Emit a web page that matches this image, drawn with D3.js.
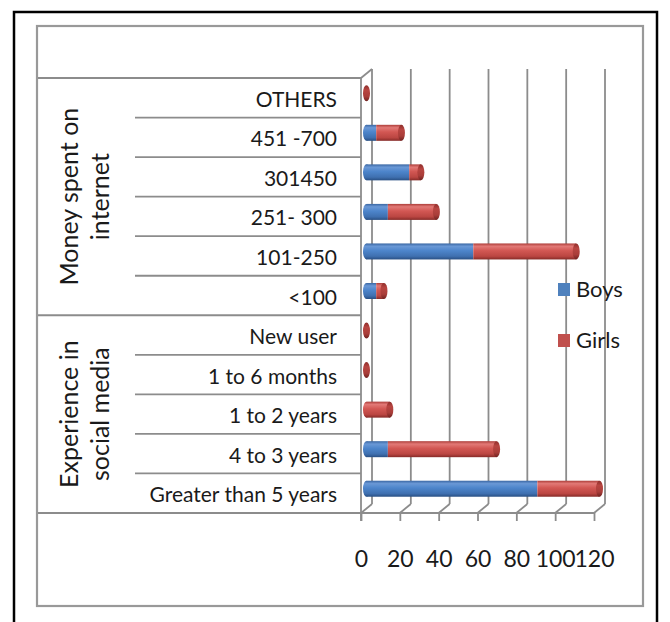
<!DOCTYPE html>
<html>
<head>
<meta charset="utf-8">
<script src="https://cdn.jsdelivr.net/npm/d3@7"></script>
<style>
  html, body { margin: 0; padding: 0; background: #fff; }
  svg { display: block; }
  text { font-family: Lato, "Open Sans", sans-serif; fill: #1a1a1a; }
</style>
</head>
<body>
<svg id="chart" width="670" height="622"></svg>
<script>
// Category rows, top to bottom
const categories = ["OTHERS", "451 -700", "301450", "251- 300", "101-250", "<100",
  "New user", "1 to 6 months", "1 to 2 years", "4 to 3 years", "Greater than 5 years"];
const boys  = [0, 5, 22, 11, 55, 5, 0, 0, 0, 11, 88];
const girls = [0, 13, 6, 25, 53, 4, 0, 0, 12, 56, 32];

// Grouping of the rows
const groupLabels = [["Money spent on", "internet"], ["Experience in", "social media"]];
const groupSizes = [6, 5];

const tickValues = [0, 20, 40, 60, 80, 100, 120];
const seriesNames = ["Boys", "Girls"];
const seriesColors = ["#4f81bd", "#c0504d"];

const svg = d3.select("#chart");

// Frames
svg.append("rect").attr("x", 14).attr("y", 12).attr("width", 643).attr("height", 614)
  .attr("fill", "none").attr("stroke", "#000").attr("stroke-width", 2.5);
svg.append("rect").attr("x", 37).attr("y", 26).attr("width", 606).attr("height", 580)
  .attr("fill", "none").attr("stroke", "#999").attr("stroke-width", 2.2);

// Scales: front edge of the floor, plus a depth offset for the back wall
const depthX = 11, depthY = -9;
const xFront = d3.scaleLinear().domain([0, 120]).range([361, 594]);
const xBack = v => xFront(v) + depthX;
const xMid = v => xFront(v) + depthX / 2;
const y = d3.scaleBand().domain(categories).range([78, 513]).padding(0);
const floorY = 513;
const topY = 78;

const grid = "#8c8c8c";
const g = svg.append("g");

// Back wall gridlines
g.selectAll("line.grid").data(tickValues.slice(1)).join("line")
  .attr("x1", d => xBack(d)).attr("x2", d => xBack(d))
  .attr("y1", topY + depthY).attr("y2", floorY + depthY)
  .attr("stroke", grid).attr("stroke-width", 1.8);

// Floor diagonals
g.selectAll("line.floor").data(tickValues).join("line")
  .attr("x1", d => xBack(d)).attr("x2", d => xFront(d))
  .attr("y1", floorY + depthY).attr("y2", floorY)
  .attr("stroke", grid).attr("stroke-width", 1.8);

// Left wall
const wall = [
  [xFront(0), topY, xFront(0), floorY + 8],
  [xBack(0), topY + depthY, xBack(0), floorY + depthY],
  [xFront(0), topY, xBack(0), topY + depthY]
];
g.selectAll("line.wall").data(wall).join("line")
  .attr("x1", d => d[0]).attr("y1", d => d[1]).attr("x2", d => d[2]).attr("y2", d => d[3])
  .attr("stroke", grid).attr("stroke-width", 1.8);

// Value axis along the front of the floor
const xAxis = d3.axisBottom(xFront).tickValues(tickValues).tickSize(8).tickPadding(30);
const ax = svg.append("g").attr("transform", `translate(0,${floorY})`).call(xAxis);
ax.select(".domain").remove();
ax.selectAll(".tick line").attr("stroke", grid).attr("stroke-width", 1.8);
ax.selectAll(".tick text").attr("font-size", 23).attr("font-family", "Lato, sans-serif").attr("fill", "#1a1a1a");
svg.append("line").attr("x1", 38).attr("x2", xFront(120)).attr("y1", floorY).attr("y2", floorY)
  .attr("stroke", grid).attr("stroke-width", 1.8);

// Category table lines
const boundaries = d3.range(categories.length + 1);
const groupEdges = [0];
groupSizes.forEach(s => groupEdges.push(groupEdges[groupEdges.length - 1] + s));
const rowY = i => i < categories.length ? y(categories[i]) : y.range()[1];
g.selectAll("line.row").data(boundaries.filter(i => i < categories.length)).join("line")
  .attr("x1", i => groupEdges.includes(i) ? 38 : 135).attr("x2", xFront(0))
  .attr("y1", i => rowY(i)).attr("y2", i => rowY(i))
  .attr("stroke", grid).attr("stroke-width", 1.8);

// Category labels
svg.selectAll("text.cat").data(categories).join("text")
  .attr("x", 337).attr("y", d => y(d) + y.bandwidth() / 2 + 9)
  .attr("text-anchor", "end").attr("font-size", 21).text(d => d);

// Group labels, rotated
groupLabels.forEach((lines, gi) => {
  const y0 = rowY(groupEdges[gi]), y1 = rowY(groupEdges[gi + 1]);
  const cy = (y0 + y1) / 2;
  lines.forEach((t, li) => {
    svg.append("text")
      .attr("transform", `translate(${78 + li * 31},${cy}) rotate(-90)`)
      .attr("text-anchor", "middle").attr("font-size", 25).text(t);
  });
});

// Cylinder shading
const defs = svg.append("defs");
function cylGrad(id, stops) {
  const lg = defs.append("linearGradient").attr("id", id)
    .attr("x1", 0).attr("y1", 0).attr("x2", 0).attr("y2", 1);
  stops.forEach(s => lg.append("stop").attr("offset", s[0]).attr("stop-color", s[1]));
}
cylGrad("cyl0", [[0, "#3a67a3"], [0.18, "#6a98d6"], [0.45, "#4d85cb"], [0.8, "#3f70b0"], [1, "#294f83"]]);
cylGrad("cyl1", [[0, "#ad3e3a"], [0.18, "#e27976"], [0.45, "#d25753"], [0.8, "#bb4642"], [1, "#862b28"]]);
cylGrad("cap1", [[0, "#8e2e2b"], [0.3, "#b84541"], [0.7, "#a93d39"], [1, "#6f2220"]]);
cylGrad("cap0", [[0, "#2f5a92"], [0.3, "#5b8bc8"], [0.7, "#4b7dbd"], [1, "#22426e"]]);

const barH = 16;
const rows = categories.map((c, i) => ({ cat: c, vals: [boys[i], girls[i]] }));
const bars = svg.append("g");
rows.forEach(r => {
  const cy = y(r.cat) + y.bandwidth() / 2 + depthY / 2;
  let acc = 0;
  const segs = r.vals.map((v, si) => { const s = { si, from: acc, to: acc + v }; acc += v; return s; });
  const first = segs.find(s => s.to > s.from);
  // rounded start of the cylinder
  if (first) {
    bars.append("ellipse").attr("cx", xMid(0)).attr("cy", cy).attr("rx", 3.5).attr("ry", barH / 2)
      .attr("fill", `url(#cyl${first.si})`);
  }
  segs.filter(s => s.to > s.from).forEach(s => {
    bars.append("rect").attr("x", xMid(s.from)).attr("y", cy - barH / 2)
      .attr("width", xMid(s.to) - xMid(s.from)).attr("height", barH)
      .attr("fill", `url(#cyl${s.si})`);
  });
  // end cap belongs to the outermost series
  const last = segs[segs.length - 1];
  bars.append("ellipse").attr("cx", xMid(acc)).attr("cy", cy).attr("rx", 3.5).attr("ry", barH / 2)
    .attr("fill", `url(#cap${last.si})`);
});

// Legend
const leg = svg.append("g");
seriesNames.forEach((n, i) => {
  const ly = 283 + i * 51;
  leg.append("rect").attr("x", 558).attr("y", ly).attr("width", 12).attr("height", 13)
    .attr("fill", seriesColors[i]);
  leg.append("text").attr("x", 576).attr("y", ly + 14).attr("font-size", 22).text(n);
});
</script>
</body>
</html>
